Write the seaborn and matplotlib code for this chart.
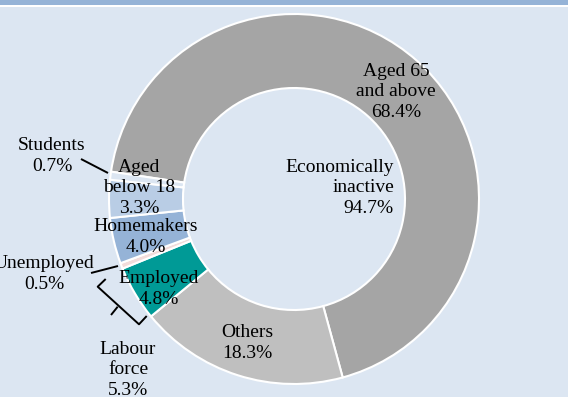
import matplotlib
matplotlib.use("Agg")
import matplotlib.pyplot as plt
import seaborn as sns

# Population by economic activity status
categories = ["Aged 65\nand above", "Others", "Employed", "Unemployed",
              "Homemakers", "Aged\nbelow 18", "Students"]
shares = [68.4, 18.3, 4.8, 0.5, 4.0, 3.3, 0.7]
colors = ["#a5a5a5", "#bfbfbf", "#009a96", "#f2dcdb",
          "#95b3d7", "#b9cde5", "#dce6f2"]
labour_force = ["Employed", "Unemployed"]

W, H = 568, 397
BG = "#dce6f2"

sns.set_theme(style="white")
plt.rcParams["font.family"] = ["Liberation Serif", "DejaVu Serif"]

fig = plt.figure(figsize=(W / 100, H / 100), dpi=100, facecolor=BG)
ax = fig.add_axes([0, 0, 1, 1])
ax.set_facecolor(BG)


def px(x, y):
    """Convert top-left pixel coordinates to axes data coordinates."""
    return x, H - y


# header band
ax.axhspan(H - 4.7, H, color="#95b3d7", lw=0)
ax.axhspan(H - 7.3, H - 4.7, color="white", lw=0)

R_OUT, R_IN = 185, 111
cx, cy = px(294, 199)
ax.pie(shares, colors=colors, startangle=171.5, counterclock=False,
       radius=R_OUT, center=(cx, cy), frame=True,
       wedgeprops=dict(width=R_OUT - R_IN, edgecolor="white", linewidth=1.5))
ax.set_xlim(0, W)
ax.set_ylim(0, H)
ax.set_aspect("equal")
ax.axis("off")

share = dict(zip(categories, shares))
fs = 14
txt = dict(fontsize=fs, color="black", va="center", linespacing=1.27)

label_pos = {
    "Aged 65\nand above": (396, 92),
    "Others": (247, 343),
    "Employed": (159, 289),
    "Unemployed": (44, 274),
    "Homemakers": (146, 237),
    "Aged\nbelow 18": (139, 188),
    "Students": (52, 156),
}
for name, (x, y) in label_pos.items():
    ax.text(*px(x, y), f"{name}\n{share[name]:.1f}%", ha="center",
            multialignment="center", **txt)

lf = sum(share[c] for c in labour_force)
inactive = sum(v for c, v in share.items() if c not in labour_force)
ax.text(*px(394, 188), f"Economically\ninactive\n{inactive:.1f}%",
        ha="right", multialignment="right", **txt)
ax.text(*px(128, 370), f"Labour\nforce\n{lf:.1f}%", ha="center",
        multialignment="center", **txt)

# leader lines
line = dict(color="black", lw=1.4, solid_capstyle="butt")
for pts in [[(81, 159), (108, 173)],
            [(91, 273), (118, 266)],
            [(105.7, 279), (97.7, 286.7), (139, 324.3), (146.7, 316)],
            [(117.7, 306.7), (111, 315)]]:
    xs, ys = zip(*[px(x, y) for x, y in pts])
    ax.plot(xs, ys, **line)

fig.savefig("out.png", dpi=100, facecolor=BG)
